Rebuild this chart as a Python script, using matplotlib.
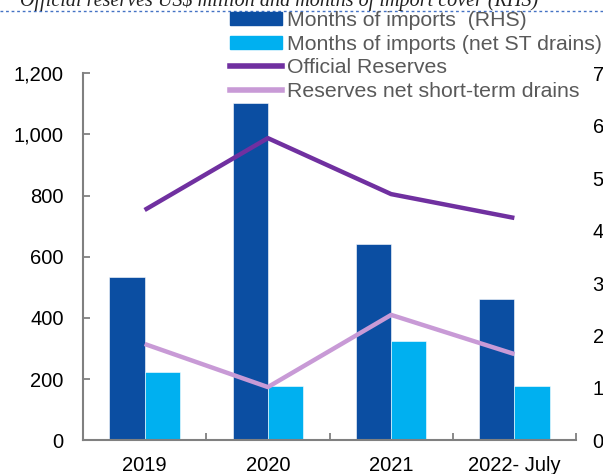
import matplotlib
matplotlib.use('Agg')
import matplotlib.pyplot as plt
from matplotlib.lines import Line2D
from matplotlib.patches import Patch
from matplotlib.ticker import FuncFormatter

plt.rcParams['font.family'] = ['Liberation Sans', 'DejaVu Sans']

anos = ['2019', '2020', '2021', '2022- July']
meses_import = [3.12, 6.43, 3.74, 2.70]          # RHS
meses_import_liq = [1.30, 1.04, 1.89, 1.04]      # RHS
reservas = [753, 988, 805, 727]                  # US$ million
reservas_liq = [315, 174, 410, 282]              # US$ million

azul = '#0B4EA2'
ciano = '#00B0F0'
roxo = '#7030A0'
lilas = '#C89AD6'
cinza = '#808080'

fig = plt.figure(figsize=(6.03, 4.74), dpi=100)
W, H = 603, 474
ax = fig.add_axes([83 / W, 1 - 440.3 / H, (576 - 83) / W, (440.3 - 73.3) / H])
ax2 = ax.twinx()

x = list(range(len(anos)))
larg = 0.285
ax2.bar([i - larg / 2 for i in x], meses_import, larg, color=azul, edgecolor='white', linewidth=0.4)
ax2.bar([i + larg / 2 for i in x], meses_import_liq, larg, color=ciano, edgecolor='white', linewidth=0.4)
ax.plot(x, reservas, color=roxo, lw=3.2, solid_capstyle='butt')
ax.plot(x, reservas_liq, color=lilas, lw=3.2, solid_capstyle='butt')

ax.set_zorder(ax2.get_zorder() + 1)
ax.patch.set_visible(False)

ax.set_xlim(-0.5, 3.5)
ax.set_ylim(0, 1200)
ax2.set_ylim(0, 7)
ax.set_yticks(range(0, 1201, 200))
ax.yaxis.set_major_formatter(FuncFormatter(lambda v, p: f'{int(v):,}'))
ax2.set_yticks(range(0, 8))

ax.set_xticks([-0.5, 0.5, 1.5, 2.5, 3.5])
ax.set_xticklabels([])
ax.set_xticks(x, minor=True)
ax.set_xticklabels(anos, minor=True)
ax.tick_params(axis='x', which='minor', length=0, pad=11, labelsize=14.5)
ax.tick_params(axis='x', which='major', direction='in', length=5, width=1.3, color=cinza)
ax.tick_params(axis='y', direction='in', length=5, width=1.3, color=cinza, pad=14, labelsize=14.5)
ax2.tick_params(axis='y', direction='in', length=0, pad=12, labelsize=14.5)

for a in (ax, ax2):
    for s in ('top', 'right'):
        a.spines[s].set_visible(False)
    for s in ('left', 'bottom'):
        a.spines[s].set_color(cinza)
        a.spines[s].set_linewidth(1.5)
ax2.spines['left'].set_visible(False)
ax2.spines['bottom'].set_visible(False)

handles = [Patch(color=azul), Patch(color=ciano),
           Line2D([], [], color=roxo, lw=4), Line2D([], [], color=lilas, lw=4)]
nomes = ['Months of imports  (RHS)', 'Months of imports (net ST drains)',
         'Official Reserves', 'Reserves net short-term drains']
leg = fig.legend(handles, nomes, loc='upper left', bbox_to_anchor=(230 / W, 1 - 11 / H),
                 frameon=False, fontsize=15.3, labelspacing=0.22, handlelength=2.45,
                 handleheight=0.55, handletextpad=0.25, borderpad=0, borderaxespad=0)
for t in leg.get_texts():
    t.set_color('#595959')

# titulo cortado no topo da imagem
fig.text(20 / W, 1 - 6 / H, 'Official reserves US$ million and months of import cover (RHS)',
         family=['Liberation Serif', 'DejaVu Serif'], style='italic', fontsize=14.5,
         va='baseline', ha='left', color='#222222')
fig.add_artist(Line2D([0, 1], [1 - 11 / H, 1 - 11 / H], transform=fig.transFigure,
                      color='#4472C4', lw=1, ls=(0, (2, 2))))

fig.savefig('out.png', dpi=100)
